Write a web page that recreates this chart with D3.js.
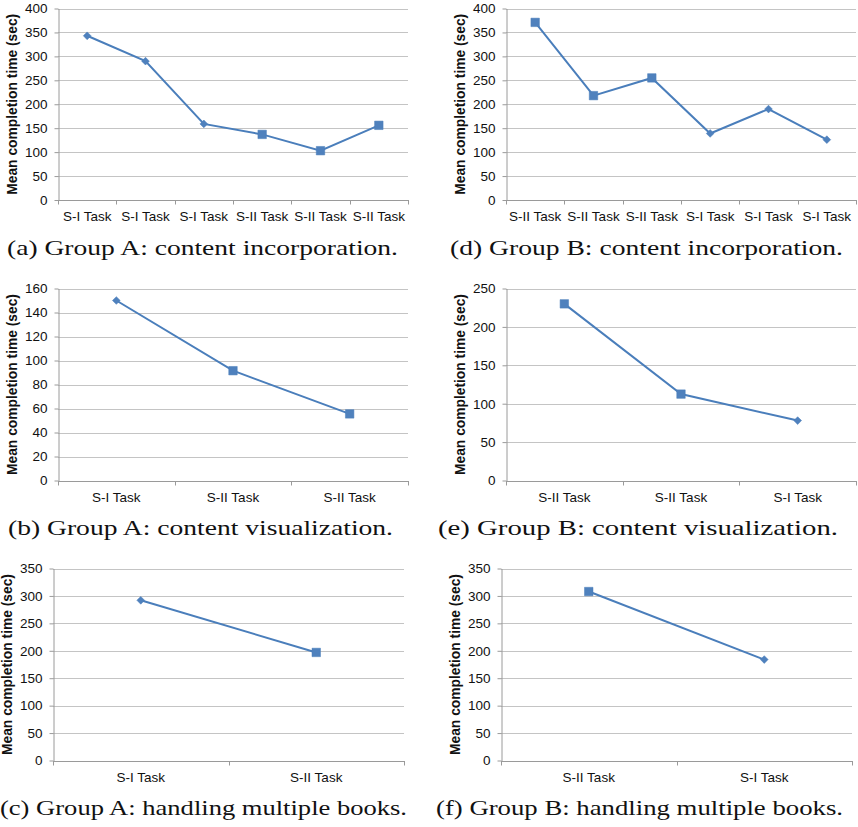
<!DOCTYPE html>
<html>
<head>
<meta charset="utf-8">
<script src="https://cdn.jsdelivr.net/npm/d3@7"></script>
<style>
  body { margin: 0; background: #fff; }
  svg { display: block; }
  .tick text { font-family: "Liberation Sans", Arial, sans-serif; font-size: 13.5px; fill: #111; }
  .ytitle { font-family: "Liberation Sans", Arial, sans-serif; font-size: 13.8px; font-weight: bold; fill: #111; }
  .caption { font-family: "Liberation Serif", "Times New Roman", serif; font-size: 22px; fill: #111; }
</style>
</head>
<body>
<div id="chart"></div>
<script>
// Mean completion time (sec) per task
const catsAIncorp = ["S-I Task", "S-I Task", "S-I Task", "S-II Task", "S-II Task", "S-II Task"];
const timesAIncorp = [343, 290, 159, 137, 103, 156];
const catsBIncorp = ["S-II Task", "S-II Task", "S-II Task", "S-I Task", "S-I Task", "S-I Task"];
const timesBIncorp = [371, 218, 255, 139, 190, 126];

const catsAVis = ["S-I Task", "S-II Task", "S-II Task"];
const timesAVis = [150, 91.5, 55.5];
const catsBVis = ["S-II Task", "S-II Task", "S-I Task"];
const timesBVis = [230, 112.5, 78];

const catsABooks = ["S-I Task", "S-II Task"];
const timesABooks = [292, 197];
const catsBBooks = ["S-II Task", "S-I Task"];
const timesBBooks = [308, 184];

const ticks400 = [0, 50, 100, 150, 200, 250, 300, 350, 400];
const ticks160 = [0, 20, 40, 60, 80, 100, 120, 140, 160];
const ticks250 = [0, 50, 100, 150, 200, 250];
const ticks350 = [0, 50, 100, 150, 200, 250, 300, 350];

const captions = [
  "(a) Group A: content incorporation.",
  "(d) Group B: content incorporation.",
  "(b) Group A: content visualization.",
  "(e) Group B: content visualization.",
  "(c) Group A: handling multiple books.",
  "(f) Group B: handling multiple books."
];

const W = 858, H = 827;
const lineColor = "#4a7ebb", markColor = "#4f81bd";

// plot boxes (layout only)
const panels = [
  { cats: catsAIncorp, vals: timesAIncorp, ticks: ticks400, l: 58,  r: 408, t: 8.5, b: 200, cap: captions[0], cx: 7,   cy: 255, cw: 391 },
  { cats: catsBIncorp, vals: timesBIncorp, ticks: ticks400, l: 506, r: 856, t: 8.5, b: 200, cap: captions[1], cx: 450, cy: 255, cw: 393 },
  { cats: catsAVis,    vals: timesAVis,    ticks: ticks160, l: 58,  r: 408, t: 288.5, b: 480.5, cap: captions[2], cx: 8,   cy: 535, cw: 385 },
  { cats: catsBVis,    vals: timesBVis,    ticks: ticks250, l: 506, r: 856, t: 288.5, b: 480.5, cap: captions[3], cx: 438, cy: 535, cw: 400 },
  { cats: catsABooks,  vals: timesABooks,  ticks: ticks350, l: 53,  r: 404, t: 568.5, b: 760.5, cap: captions[4], cx: 0,   cy: 815, cw: 407 },
  { cats: catsBBooks,  vals: timesBBooks,  ticks: ticks350, l: 501, r: 852, t: 568.5, b: 760.5, cap: captions[5], cx: 436, cy: 815, cw: 407 }
];

const svg = d3.select("#chart").append("svg")
  .attr("width", W)
  .attr("height", H);

const diamond = d3.symbol(d3.symbolSquare, 30)();
const square = d3.symbol(d3.symbolSquare, 72)();

panels.forEach(p => {
  const g = svg.append("g");
  const idx = d3.range(p.cats.length);

  const x = d3.scaleBand().domain(idx).range([p.l, p.r]).padding(0);
  const y = d3.scaleLinear().domain([0, d3.max(p.ticks)]).range([p.b, p.t]);

  // horizontal gridlines
  g.append("g").selectAll("line")
    .data(p.ticks.slice(1))
    .join("line")
    .attr("x1", p.l).attr("x2", p.r)
    .attr("y1", d => Math.round(y(d)) + 0.5).attr("y2", d => Math.round(y(d)) + 0.5)
    .attr("stroke", "#c4c4c4").attr("stroke-width", 1);

  // y axis
  const yAxis = g.append("g")
    .attr("transform", `translate(${Math.round(p.l) + 0.5},0)`)
    .call(d3.axisLeft(y).tickValues(p.ticks).tickSize(4).tickPadding(7).tickSizeOuter(0));
  yAxis.select(".domain").attr("stroke", "#9a9a9a");
  yAxis.selectAll(".tick line").attr("stroke", "#9a9a9a");

  // x axis (ticks at category boundaries)
  const xAxisY = Math.round(p.b) + 0.5;
  g.append("line")
    .attr("x1", p.l).attr("x2", p.r + 1)
    .attr("y1", xAxisY).attr("y2", xAxisY)
    .attr("stroke", "#9a9a9a");
  g.append("g").selectAll("line")
    .data(idx.concat([p.cats.length]))
    .join("line")
    .attr("x1", i => Math.round(i < p.cats.length ? x(i) : p.r) + 0.5)
    .attr("x2", i => Math.round(i < p.cats.length ? x(i) : p.r) + 0.5)
    .attr("y1", xAxisY).attr("y2", xAxisY + 4)
    .attr("stroke", "#9a9a9a");
  g.append("g").attr("class", "tick").selectAll("text")
    .data(idx)
    .join("text")
    .attr("x", i => x(i) + x.bandwidth() / 2)
    .attr("y", p.b + 21)
    .attr("text-anchor", "middle")
    .text(i => p.cats[i]);

  // y title
  g.append("text")
    .attr("class", "ytitle")
    .attr("transform", `translate(${p.l - 41},${(p.t + p.b) / 2}) rotate(-90)`)
    .attr("text-anchor", "middle")
    .text("Mean completion time (sec)");

  // series line
  const line = d3.line()
    .x((d, i) => x(i) + x.bandwidth() / 2)
    .y(d => y(d));
  g.append("path")
    .datum(p.vals)
    .attr("d", line)
    .attr("fill", "none")
    .attr("stroke", lineColor)
    .attr("stroke-width", 2);

  // markers: diamond for S-I, square for S-II
  g.append("g").selectAll("path")
    .data(p.vals)
    .join("path")
    .attr("transform", (d, i) => {
      const t = `translate(${x(i) + x.bandwidth() / 2},${y(d)})`;
      return p.cats[i].startsWith("S-II") ? t : t + " rotate(45)";
    })
    .attr("d", (d, i) => p.cats[i].startsWith("S-II") ? square : diamond)
    .attr("fill", markColor)
    .attr("stroke", lineColor)
    .attr("stroke-width", 0.5);

  // caption
  g.append("text")
    .attr("class", "caption")
    .attr("x", p.cx)
    .attr("y", p.cy)
    .attr("textLength", p.cw)
    .attr("lengthAdjust", "spacingAndGlyphs")
    .text(p.cap);
});
</script>
</body>
</html>
